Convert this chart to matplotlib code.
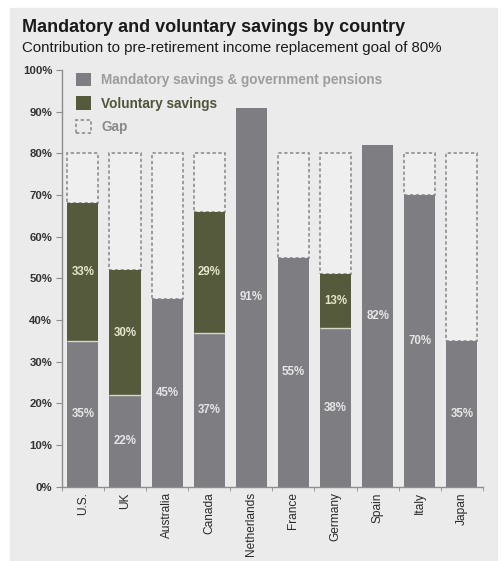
import matplotlib.pyplot as plt
from matplotlib.patches import Patch, Rectangle

# data
countries = ['U.S.', 'UK', 'Australia', 'Canada', 'Netherlands',
             'France', 'Germany', 'Spain', 'Italy', 'Japan']
mandatory = [35, 22, 45, 37, 91, 55, 38, 82, 70, 35]
voluntary = [33, 30, 0, 29, 0, 0, 13, 0, 0, 0]
goal = 80

GRAY = '#7e7e82'
OLIVE = '#545a3b'
BG = '#ebebeb'

plt.rcParams['font.family'] = ['Liberation Sans', 'DejaVu Sans']

fig = plt.figure(figsize=(5.03, 5.61), dpi=100)
fig.patches.append(Rectangle((10 / 503, 0), 487 / 503, 553 / 561,
                             transform=fig.transFigure, color=BG, zorder=-5))
ax = fig.add_axes([0.123, 0.1325, 0.837, 0.7425])
ax.set_zorder(2)
ax.set_facecolor('none')

x = list(range(len(countries)))
w = 0.74
totals = [m + v for m, v in zip(mandatory, voluntary)]

# gap boxes up to the 80% goal
for xi, t in zip(x, totals):
    if t < goal:
        ax.bar(xi, goal - t, bottom=t, width=w, facecolor='#efefef',
               edgecolor='#8e8e8e', linewidth=1.2, linestyle=(0, (2, 1.5)), zorder=1)

ax.bar(x, mandatory, width=w, color=GRAY, zorder=2)
ax.bar(x, voluntary, bottom=mandatory, width=w, color=OLIVE, zorder=2)

# thin light separator between segments
for xi, m, v in zip(x, mandatory, voluntary):
    if v > 0:
        ax.hlines(m, xi - w / 2, xi + w / 2, color='#d8d8c8', linewidth=1.0, zorder=3)

for xi, m, v in zip(x, mandatory, voluntary):
    ax.text(xi, m / 2, f'{m}%', ha='center', va='center', color='#e6e6e6',
            fontsize=8.3, fontweight='bold', zorder=4)
    if v > 0:
        ax.text(xi, m + v / 2, f'{v}%', ha='center', va='center', color='#e6e6cc',
                fontsize=8.3, fontweight='bold', zorder=4)

ax.set_xlim(-0.5, len(countries) - 0.5)
ax.set_ylim(0, 100)
ax.set_yticks(range(0, 101, 10))
ax.set_yticklabels([f'{v}%' for v in range(0, 101, 10)], fontsize=8.2, fontweight='bold',
                   color='#333333')
ax.set_xticks(x)
ax.set_xticklabels(countries, rotation=90, fontsize=8.6, color='#2a2a2a')
ax.set_xticks([i - 0.5 for i in range(len(countries) + 1)], minor=True)
ax.tick_params(axis='x', which='major', length=0, pad=4)
ax.tick_params(axis='x', which='minor', length=3, color='#8e8e8e')
ax.tick_params(axis='y', length=4, color='#8e8e8e', pad=3)
for s in ['top', 'right']:
    ax.spines[s].set_visible(False)
for s in ['left', 'bottom']:
    ax.spines[s].set_color('#8e8e8e')
    ax.spines[s].set_linewidth(1.0)

handles = [Patch(facecolor=GRAY),
           Patch(facecolor=OLIVE),
           Patch(facecolor='none', edgecolor='#8e8e8e', linewidth=1.2, linestyle=(0, (2, 1.5)))]
labels = ['Mandatory savings & government pensions', 'Voluntary savings', 'Gap']
leg = ax.legend(handles, labels, loc='upper left', bbox_to_anchor=(0.005, 1.022),
                frameon=False, handlelength=1.1, handleheight=1.1,
                labelspacing=0.67, handletextpad=0.75,
                prop={'weight': 'bold', 'size': 9.8})
for txt, c in zip(leg.get_texts(), ['#9d9d9d', '#50553a', '#8a8a8a']):
    txt.set_color(c)

fig.text(22 / 503, 1 - 28 / 561, 'Mandatory and voluntary savings by country',
         fontsize=13, fontweight='bold', color='#1a1a1a', va='center')
fig.text(22 / 503, 1 - 48 / 561, 'Contribution to pre-retirement income replacement goal of 80%',
         fontsize=10.8, color='#1a1a1a', va='center')

fig.savefig('out.png', dpi=100)
